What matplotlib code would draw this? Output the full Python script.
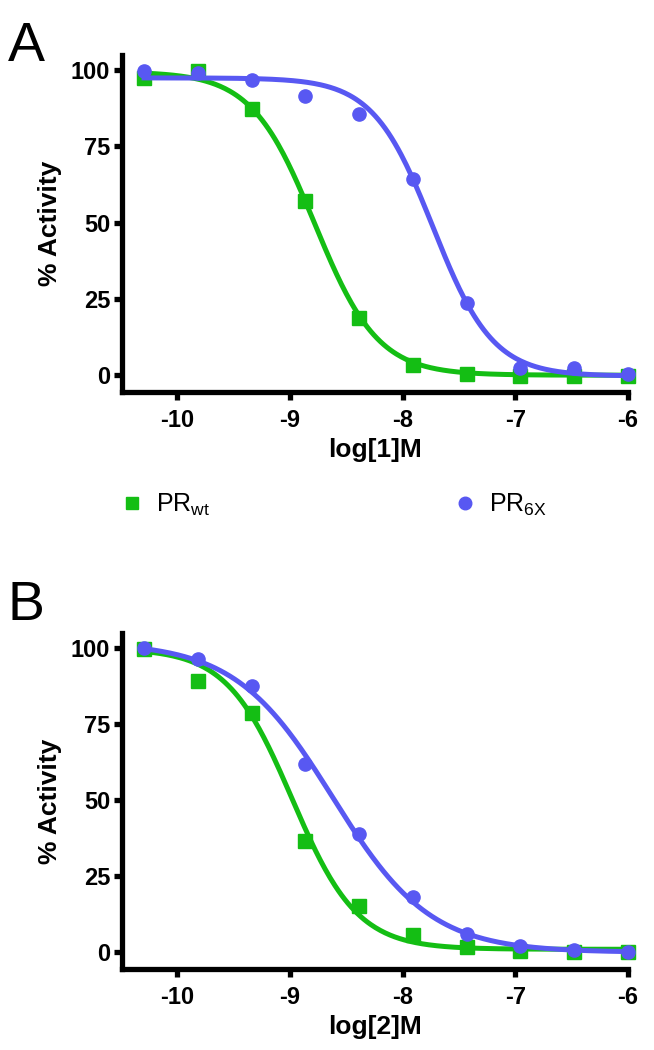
import matplotlib
matplotlib.use("Agg")
import matplotlib.pyplot as plt
import numpy as np

plt.rcParams['font.family'] = ['Liberation Sans', 'DejaVu Sans']
plt.rcParams['axes.unicode_minus'] = False
plt.rcParams['mathtext.fontset'] = 'custom'
plt.rcParams['mathtext.rm'] = 'Liberation Sans'

# log concentrations (3-fold dilutions from 1 uM)
logConc = [-10.294, -9.817, -9.340, -8.863, -8.385, -7.908, -7.431, -6.954, -6.477, -6.0]

# panel A, compound 1
wtA = [97.3, 99.8, 87.4, 57.0, 18.7, 3.4, 0.4, -0.4, -0.4, -0.3]
sixA = [99.8, 99.0, 96.7, 91.7, 85.8, 64.5, 23.7, 2.4, 2.5, 0.5]
# panel B, compound 2
wtB = [99.7, 89.4, 78.8, 36.7, 15.3, 5.8, 1.6, 0.3, 0.0, 0.0]
sixB = [100.0, 96.4, 87.5, 62.0, 38.9, 18.2, 6.0, 2.0, 0.9, 0.0]

# fitted curves: top, bottom, logIC50, hill slope
fitWtA = [99.5, 0.0, -8.78, 1.55]
fitSixA = [97.5, -0.3, -7.73, 1.63]
fitWtB = [100.0, 1.0, -8.98, 1.5]
fitSixB = [102.0, 0.0, -8.62, 1.0]

green = '#14BE14'
blue = '#5858F2'


def logistic(x, p):
    top, bottom, ic50, hill = p
    return bottom + (top - bottom) / (1 + 10 ** ((x - ic50) * hill))


def drawPanel(ax, wt, six, fitWt, fitSix, xlab):
    xs = np.linspace(logConc[0], logConc[-1], 300)
    ax.plot(xs, logistic(xs, fitWt), color=green, lw=3.6, zorder=2)
    h1, = ax.plot(logConc, wt, 's', color=green, ms=9.5, zorder=3, clip_on=False)
    ax.plot(xs, logistic(xs, fitSix), color=blue, lw=3.6, zorder=4)
    h2, = ax.plot(logConc, six, 'o', color=blue, ms=9.5, zorder=5, clip_on=False)

    ax.set_xlim(-10.49, -6.0)
    ax.set_ylim(-5.5, 105)
    ax.set_xticks([-10, -9, -8, -7, -6])
    ax.set_yticks([0, 25, 50, 75, 100])
    for s in ['top', 'right']:
        ax.spines[s].set_visible(False)
    for s in ['left', 'bottom']:
        ax.spines[s].set_linewidth(3.8)
    ax.tick_params(width=3.8, length=5.5, labelsize=17, pad=3)
    ax.tick_params(axis='x', pad=7)
    for lab in ax.get_xticklabels() + ax.get_yticklabels():
        lab.set_fontweight('bold')
    ax.set_xlabel(xlab, fontsize=19, fontweight='bold', labelpad=4)
    ax.set_ylabel('% Activity', fontsize=19, fontweight='bold', labelpad=6)
    return h1, h2


fig = plt.figure(figsize=(6.54, 10.5), dpi=100)
axA = fig.add_axes([0.1865, 0.6267, 0.7735, 0.3209])
axB = fig.add_axes([0.1865, 0.0771, 0.7735, 0.3199])

h1, h2 = drawPanel(axA, wtA, sixA, fitWtA, fitSixA, 'log[1]M')
drawPanel(axB, wtB, sixB, fitWtB, fitSixB, 'log[2]M')

leg = fig.legend([h1, h2], [r'PR$_{\rm wt}$', r'PR$_{\rm 6X}$'], loc='center left',
                 bbox_to_anchor=(0.152, 0.519), ncol=2, frameon=False, fontsize=18,
                 handlelength=0.8, handletextpad=0.55, columnspacing=9.8, markerscale=0.95)

fig.text(0.012, 0.98, 'A', fontsize=40, va='top', ha='left')
fig.text(0.012, 0.448, 'B', fontsize=40, va='top', ha='left')

fig.savefig('out.png', dpi=100)
